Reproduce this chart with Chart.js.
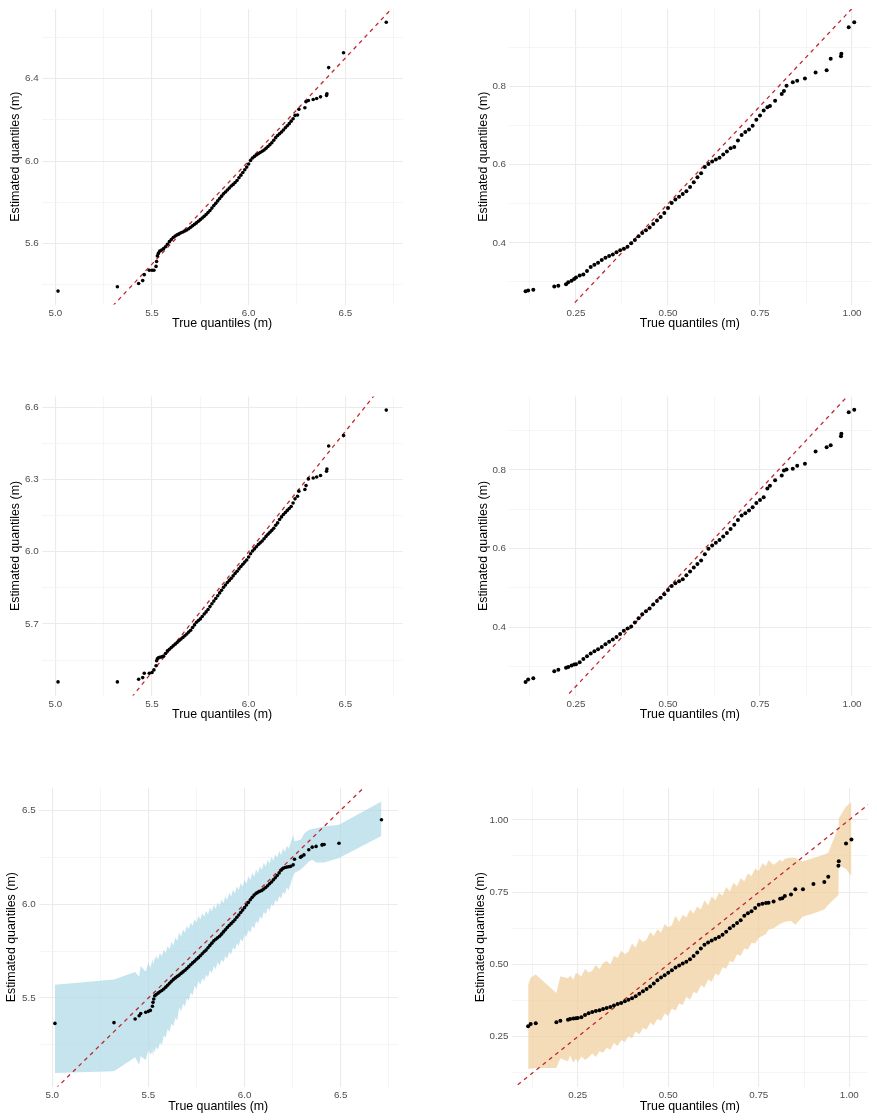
<!DOCTYPE html>
<html>
<head>
<meta charset="utf-8">
<script src="https://cdn.jsdelivr.net/npm/chart.js@4.4.1/dist/chart.umd.min.js"></script>
<style>
  body { margin: 0; background: #fff; width: 877px; height: 1120px; position: relative; overflow: hidden; }
</style>
</head>
<body>
<script>
// ---- Datos: cuantiles verdaderos (columna izquierda) ----
const xLeft = [
  5.014, 5.321, 5.431, 5.452, 5.460, 5.486, 5.500, 5.510, 5.521, 5.524, 5.528, 5.533,
  5.54, 5.55, 5.56, 5.57, 5.58, 5.59, 5.60, 5.61, 5.62, 5.63,
  5.64, 5.65, 5.66, 5.67, 5.68, 5.69, 5.70, 5.71, 5.72, 5.73,
  5.74, 5.75, 5.76, 5.77, 5.78, 5.79, 5.80, 5.81, 5.82, 5.83,
  5.84, 5.85, 5.86, 5.87, 5.88, 5.89, 5.90, 5.91, 5.92, 5.93,
  5.94, 5.95, 5.96, 5.97, 5.98, 5.99, 6.00, 6.01, 6.02, 6.03,
  6.04, 6.05, 6.06, 6.07, 6.08, 6.09, 6.10, 6.11, 6.12, 6.13,
  6.14, 6.15, 6.16, 6.17, 6.18, 6.19, 6.20, 6.21, 6.22, 6.23,
  6.24,
  6.253, 6.260, 6.291, 6.297, 6.309, 6.334, 6.352, 6.372, 6.403, 6.405, 6.414, 6.491, 6.712
];
// cuantiles estimados, panel superior izquierdo
const yTopLeft = [
  5.369, 5.390, 5.406, 5.420, 5.449, 5.470, 5.470, 5.470, 5.489, 5.513, 5.540, 5.552,
  5.563, 5.568, 5.575, 5.584, 5.596, 5.609, 5.619, 5.629, 5.636, 5.642,
  5.647, 5.652, 5.656, 5.661, 5.666, 5.672, 5.679, 5.686, 5.693, 5.700,
  5.708, 5.716, 5.724, 5.732, 5.741, 5.750, 5.760, 5.772, 5.784, 5.795,
  5.807, 5.818, 5.830, 5.841, 5.850, 5.860, 5.869, 5.879, 5.887, 5.896,
  5.906, 5.919, 5.932, 5.945, 5.958, 5.971, 5.986, 6.003, 6.015, 6.023,
  6.030, 6.036, 6.042, 6.048, 6.054, 6.062, 6.071, 6.080, 6.089, 6.101,
  6.114, 6.124, 6.133, 6.141, 6.151, 6.162, 6.172, 6.182, 6.194, 6.206,
  6.222,
  6.224, 6.252, 6.259, 6.288, 6.294, 6.299, 6.304, 6.312, 6.319, 6.327, 6.454, 6.526, 6.674
];
// panel central izquierdo
const yMidLeft = [
  5.459, 5.459, 5.470, 5.477, 5.495, 5.495, 5.498, 5.509, 5.526, 5.547, 5.555, 5.559,
  5.561, 5.563, 5.566, 5.577, 5.588, 5.595, 5.602, 5.609, 5.616, 5.623,
  5.630, 5.637, 5.644, 5.651, 5.658, 5.666, 5.674, 5.685, 5.696, 5.707,
  5.714, 5.721, 5.731, 5.741, 5.750, 5.760, 5.772, 5.784, 5.795, 5.806,
  5.817, 5.829, 5.840, 5.852, 5.862, 5.872, 5.881, 5.890, 5.900, 5.910,
  5.919, 5.929, 5.939, 5.948, 5.957, 5.966, 5.978, 5.992, 6.003, 6.012,
  6.021, 6.030, 6.037, 6.045, 6.054, 6.064, 6.073, 6.081, 6.089, 6.098,
  6.110, 6.120, 6.134, 6.145, 6.155, 6.163, 6.172, 6.180, 6.188, 6.203,
  6.220,
  6.231, 6.252, 6.259, 6.275, 6.303, 6.307, 6.311, 6.317, 6.335, 6.344, 6.440, 6.483, 6.589
];
// panel inferior izquierdo
const yBotLeft = [
  5.365, 5.369, 5.388, 5.406, 5.417, 5.424, 5.429, 5.434, 5.456, 5.477, 5.495, 5.512,
  5.518, 5.526, 5.533, 5.540, 5.548, 5.558, 5.568, 5.579, 5.589, 5.599,
  5.607, 5.615, 5.622, 5.631, 5.639, 5.648, 5.657, 5.667, 5.677, 5.687,
  5.696, 5.706, 5.715, 5.725, 5.736, 5.746, 5.755, 5.768, 5.780, 5.792,
  5.804, 5.813, 5.821, 5.829, 5.840, 5.852, 5.863, 5.875, 5.886, 5.896,
  5.906, 5.917, 5.930, 5.942, 5.955, 5.968, 5.981, 5.995, 6.009, 6.023,
  6.036, 6.048, 6.057, 6.063, 6.068, 6.073, 6.080, 6.088, 6.098, 6.108,
  6.118, 6.129, 6.140, 6.152, 6.166, 6.180, 6.190, 6.195, 6.197, 6.199,
  6.201,
  6.209, 6.239, 6.250, 6.254, 6.262, 6.289, 6.303, 6.307, 6.314, 6.317, 6.317, 6.324, 6.449
];
// banda (límite superior e inferior), panel inferior izquierdo
const bandHighLeft = [
  5.571, 5.598, 5.638, 5.615, 5.670, 5.640, 5.690, 5.660, 5.705, 5.685, 5.715, 5.700,
  5.725, 5.705, 5.740, 5.722, 5.758, 5.740, 5.778, 5.760, 5.800, 5.780,
  5.822, 5.805, 5.848, 5.828, 5.865, 5.848, 5.885, 5.866, 5.902, 5.885,
  5.920, 5.902, 5.938, 5.918, 5.952, 5.932, 5.965, 5.945, 5.980, 5.962,
  5.995, 5.975, 6.010, 5.990, 6.025, 6.005, 6.042, 6.022, 6.060, 6.040,
  6.078, 6.058, 6.095, 6.075, 6.112, 6.092, 6.130, 6.110, 6.148, 6.128,
  6.166, 6.146, 6.184, 6.164, 6.202, 6.182, 6.220, 6.200, 6.236, 6.216,
  6.250, 6.232, 6.265, 6.248, 6.282, 6.262, 6.296, 6.278, 6.310, 6.295,
  6.325,
  6.369, 6.335, 6.342, 6.350, 6.375, 6.395, 6.400, 6.404, 6.410, 6.412, 6.413, 6.422, 6.546
];
const bandLowLeft = [
  5.101, 5.110, 5.185, 5.145, 5.190, 5.170, 5.225, 5.200, 5.215, 5.190, 5.230, 5.210,
  5.240, 5.225, 5.262, 5.250, 5.300, 5.290, 5.335, 5.320, 5.365, 5.350,
  5.395, 5.380, 5.450, 5.430, 5.470, 5.455, 5.500, 5.485, 5.530, 5.515,
  5.565, 5.548, 5.590, 5.570, 5.605, 5.590, 5.625, 5.610, 5.648, 5.632,
  5.670, 5.655, 5.690, 5.672, 5.705, 5.690, 5.722, 5.710, 5.745, 5.732,
  5.770, 5.755, 5.790, 5.778, 5.815, 5.800, 5.840, 5.825, 5.862, 5.848,
  5.885, 5.870, 5.910, 5.895, 5.935, 5.920, 5.958, 5.945, 5.980, 5.965,
  6.000, 5.988, 6.022, 6.010, 6.042, 6.030, 6.065, 6.052, 6.088, 6.075,
  6.110,
  6.150, 6.165, 6.183, 6.190, 6.200, 6.225, 6.236, 6.222, 6.222, 6.222, 6.222, 6.245, 6.363
];

// ---- Datos: cuantiles verdaderos (columna derecha) ----
const xRight = [
  0.113, 0.120, 0.134, 0.191, 0.202, 0.223, 0.229, 0.238, 0.245,
  0.25, 0.26, 0.27, 0.28, 0.29, 0.30, 0.31, 0.32, 0.33, 0.34,
  0.35, 0.36, 0.37, 0.38, 0.39, 0.40, 0.41, 0.42, 0.43, 0.44,
  0.45, 0.46, 0.47, 0.48, 0.49, 0.50, 0.51, 0.52, 0.53, 0.54,
  0.55, 0.56, 0.57, 0.58, 0.59, 0.60, 0.61, 0.62, 0.63, 0.64,
  0.65, 0.66, 0.67, 0.68, 0.69, 0.70, 0.71, 0.72, 0.73, 0.74,
  0.75, 0.76, 0.77,
  0.777, 0.791, 0.809, 0.815, 0.822, 0.839, 0.851, 0.872, 0.901, 0.931, 0.942, 0.970, 0.971, 0.991, 1.006
];
const yTopRight = [
  0.276, 0.278, 0.280, 0.288, 0.290, 0.294, 0.299, 0.303, 0.307,
  0.311, 0.316, 0.319, 0.328, 0.338, 0.344, 0.349, 0.356, 0.362, 0.366,
  0.370, 0.376, 0.381, 0.385, 0.390, 0.399, 0.407, 0.417, 0.425, 0.432,
  0.439, 0.448, 0.457, 0.466, 0.476, 0.489, 0.502, 0.511, 0.518, 0.525,
  0.532, 0.543, 0.555, 0.568, 0.578, 0.594, 0.602, 0.608, 0.613, 0.618,
  0.626, 0.634, 0.642, 0.645, 0.662, 0.676, 0.684, 0.690, 0.700, 0.715,
  0.726, 0.739, 0.747,
  0.750, 0.764, 0.781, 0.789, 0.802, 0.811, 0.815, 0.821, 0.836, 0.842, 0.871, 0.878, 0.884, 0.952, 0.965
];
const yMidRight = [
  0.261, 0.267, 0.270, 0.288, 0.292, 0.297, 0.299, 0.303, 0.305,
  0.306, 0.311, 0.319, 0.326, 0.333, 0.339, 0.344, 0.350, 0.357, 0.363,
  0.369, 0.375, 0.383, 0.391, 0.397, 0.402, 0.412, 0.423, 0.433, 0.441,
  0.448, 0.458, 0.467, 0.475, 0.484, 0.495, 0.505, 0.512, 0.517, 0.522,
  0.532, 0.542, 0.552, 0.561, 0.570, 0.586, 0.600, 0.608, 0.615, 0.622,
  0.631, 0.640, 0.650, 0.661, 0.673, 0.684, 0.690, 0.697, 0.705, 0.716,
  0.724, 0.731, 0.753,
  0.760, 0.774, 0.786, 0.799, 0.801, 0.803, 0.811, 0.816, 0.847, 0.858, 0.863, 0.886, 0.892, 0.947, 0.953
];
const yBotRight = [
  0.286, 0.294, 0.297, 0.300, 0.305, 0.309, 0.311, 0.313, 0.314,
  0.315, 0.317, 0.325, 0.331, 0.336, 0.339, 0.342, 0.346, 0.349, 0.353,
  0.358, 0.363, 0.367, 0.373, 0.378, 0.383, 0.390, 0.399, 0.407, 0.415,
  0.424, 0.434, 0.445, 0.455, 0.463, 0.471, 0.480, 0.489, 0.496, 0.503,
  0.509, 0.518, 0.529, 0.541, 0.555, 0.568, 0.576, 0.583, 0.589, 0.595,
  0.603, 0.613, 0.625, 0.634, 0.643, 0.653, 0.668, 0.677, 0.684, 0.695,
  0.706, 0.710, 0.712,
  0.713, 0.718, 0.727, 0.729, 0.737, 0.742, 0.760, 0.760, 0.778, 0.785, 0.803, 0.841, 0.857, 0.918, 0.932
];
const bandHighRight = [
  0.430, 0.455, 0.465, 0.401, 0.459, 0.452, 0.462, 0.448, 0.470,
  0.468, 0.458, 0.485, 0.472, 0.478, 0.498, 0.484, 0.505, 0.512, 0.500,
  0.530, 0.522, 0.548, 0.535, 0.545, 0.572, 0.558, 0.590, 0.578, 0.585,
  0.612, 0.598, 0.622, 0.610, 0.640, 0.628, 0.636, 0.668, 0.648, 0.672,
  0.662, 0.690, 0.676, 0.700, 0.690, 0.722, 0.705, 0.735, 0.722, 0.748,
  0.738, 0.768, 0.752, 0.782, 0.770, 0.798, 0.788, 0.815, 0.805, 0.832,
  0.822, 0.850, 0.840,
  0.860, 0.845, 0.862, 0.855, 0.865, 0.870, 0.868, 0.856, 0.868, 0.880, 0.886, 0.975, 1.005, 1.046, 1.062
];
const bandLowRight = [
  0.138, 0.140, 0.142, 0.142, 0.175, 0.165, 0.185, 0.160, 0.175,
  0.162, 0.182, 0.170, 0.178, 0.192, 0.180, 0.200, 0.195, 0.212, 0.205,
  0.228, 0.218, 0.238, 0.232, 0.252, 0.245, 0.268, 0.258, 0.280, 0.275,
  0.298, 0.290, 0.312, 0.305, 0.330, 0.322, 0.348, 0.340, 0.365, 0.360,
  0.388, 0.378, 0.405, 0.400, 0.428, 0.420, 0.448, 0.440, 0.468, 0.462,
  0.490, 0.485, 0.512, 0.508, 0.535, 0.530, 0.555, 0.552, 0.575, 0.572,
  0.592, 0.598, 0.605,
  0.620, 0.625, 0.640, 0.643, 0.648, 0.650, 0.637, 0.666, 0.676, 0.690, 0.706, 0.740, 0.845, 0.830, 0.805
];

// ---- Marcas de los ejes (mayores y menores) ----
const ticksXLeft = [5.0, 5.5, 6.0, 6.5];
const minorXLeft = [5.25, 5.75, 6.25, 6.75];
const ticksXRight = [0.25, 0.5, 0.75, 1.0];
const minorXRight = [0.125, 0.375, 0.625, 0.875];
const ticksY1 = [5.6, 6.0, 6.4];
const minorY1 = [5.4, 5.8, 6.2, 6.6];
const ticksY2 = [0.4, 0.6, 0.8];
const minorY2 = [0.3, 0.5, 0.7, 0.9];
const ticksY3 = [5.7, 6.0, 6.3, 6.6];
const minorY3 = [5.55, 5.85, 6.15, 6.45];
const ticksY4 = [0.4, 0.6, 0.8];
const minorY4 = [0.3, 0.5, 0.7, 0.9];
const ticksY5 = [5.5, 6.0, 6.5];
const minorY5 = [5.25, 5.75, 6.25];
const ticksY6 = [0.25, 0.5, 0.75, 1.0];
const minorY6 = [0.125, 0.375, 0.625, 0.875];

const FONT = "'Liberation Sans', Arial, Helvetica, sans-serif";
const TITLE_SIZE = 12.4;
const TICK_SIZE = 9.8;
const LH = TITLE_SIZE * 1.2;

// Configuración de cada panel: caja del canvas, área del gráfico y rangos
const paneles = [
  { caja: [0, 0, 438, 350], area: [41.6, 5.5, 402.7, 304.5], xr: [4.929, 6.797], yr: [5.304, 6.739],
    xs: xLeft, ys: yTopLeft, xt: [ticksXLeft, minorXLeft, 1], yt: [ticksY1, minorY1, 1], yTitleCx: 16, xTitleCy: 324, r: 1.8 },
  { caja: [438, 0, 439, 350], area: [509, 5.5, 870.8, 304.5], xr: [0.068, 1.051], yr: [0.242, 0.999],
    xs: xRight, ys: yTopRight, xt: [ticksXRight, minorXRight, 2], yt: [ticksY2, minorY2, 1], yTitleCx: 483.3, xTitleCy: 324, r: 2 },
  { caja: [0, 350, 438, 390], area: [41.6, 396.5, 402.7, 695.5], xr: [4.929, 6.797], yr: [5.4025, 6.6455],
    xs: xLeft, ys: yMidLeft, xt: [ticksXLeft, minorXLeft, 1], yt: [ticksY3, minorY3, 1], yTitleCx: 16, xTitleCy: 714.3, r: 1.8 },
  { caja: [438, 350, 439, 390], area: [509, 396.5, 870.8, 695.5], xr: [0.068, 1.051], yr: [0.2264, 0.987],
    xs: xRight, ys: yMidRight, xt: [ticksXRight, minorXRight, 2], yt: [ticksY4, minorY4, 1], yTitleCx: 483.3, xTitleCy: 714.3, r: 2 },
  { caja: [0, 740, 438, 380], area: [38.6, 788, 397.8, 1086.5], xr: [4.929, 6.797], yr: [5.029, 6.618],
    xs: xLeft, ys: yBotLeft, xt: [ticksXLeft, minorXLeft, 1], yt: [ticksY5, minorY5, 1], yTitleCx: 11.7, xTitleCy: 1106.7, r: 1.8,
    banda: [bandLowLeft, bandHighLeft], color: 'rgba(173,216,230,0.7)' },
  { caja: [438, 740, 439, 380], area: [511.5, 788, 868.1, 1086.5], xr: [0.067, 1.052], yr: [0.078, 1.110],
    xs: xRight, ys: yBotRight, xt: [ticksXRight, minorXRight, 2], yt: [ticksY6, minorY6, 2], yTitleCx: 480.7, xTitleCy: 1106.7, r: 2,
    banda: [bandLowRight, bandHighRight], color: 'rgba(239,205,154,0.7)' }
];

const pts = (xs, ys) => xs.map((x, i) => ({ x: x, y: ys[i] }));
const esMayor = (v, lista) => lista.some((m) => Math.abs(m - v) < 1e-6);

// Escala con líneas mayores y menores (estilo ggplot minimal)
function escala(rango, marcas, extra) {
  const [mayores, menores, dec] = marcas;
  return Object.assign({
    type: 'linear',
    min: rango[0],
    max: rango[1],
    afterBuildTicks: (s) => {
      s.ticks = mayores.concat(menores).sort((a, b) => a - b).map((v) => ({ value: v }));
    },
    border: { display: false },
    grid: {
      drawTicks: false,
      color: (ctx) => (ctx.tick && esMayor(ctx.tick.value, mayores) ? '#EBEBEB' : '#F2F2F2'),
      lineWidth: (ctx) => (ctx.tick && esMayor(ctx.tick.value, mayores) ? 1.1 : 0.8)
    },
    ticks: {
      autoSkip: false,
      maxRotation: 0,
      padding: 3,
      color: '#4D4D4D',
      font: { family: FONT, size: TICK_SIZE },
      callback: (v) => (esMayor(v, mayores) ? Number(v).toFixed(dec) : '')
    }
  }, extra);
}

function crearPanel(p) {
  const [cx, cy, cw, ch] = p.caja;
  const [L, T, R, B] = p.area;
  const cv = document.createElement('canvas');
  cv.width = cw;
  cv.height = ch;
  cv.style.cssText = `position:absolute;left:${cx}px;top:${cy}px;width:${cw}px;height:${ch}px`;
  document.body.appendChild(cv);

  const datasets = [
    { data: pts(p.xs, p.ys), showLine: false, pointRadius: p.r, pointBackgroundColor: '#000',
      pointBorderWidth: 0, pointBorderColor: '#000', order: 0 },
    { data: [{ x: p.xr[0], y: p.xr[0] }, { x: p.xr[1], y: p.xr[1] }], showLine: true,
      borderColor: '#C1272D', borderWidth: 1.3, borderDash: [4, 4], pointRadius: 0, fill: false, order: 1 }
  ];
  if (p.banda) {
    datasets.push({ data: pts(p.xs, p.banda[1]), showLine: true, fill: '+1', backgroundColor: p.color,
      borderColor: 'rgba(0,0,0,0)', borderWidth: 0, pointRadius: 0, order: 2 });
    datasets.push({ data: pts(p.xs, p.banda[0]), showLine: true, fill: false,
      borderColor: 'rgba(0,0,0,0)', borderWidth: 0, pointRadius: 0, order: 3 });
  }

  new Chart(cv.getContext('2d'), {
    type: 'line',
    data: { datasets: datasets },
    options: {
      responsive: false,
      animation: false,
      devicePixelRatio: 1,
      layout: { padding: { left: 0, bottom: 0, top: T - cy, right: cx + cw - R } },
      plugins: { legend: { display: false }, tooltip: { enabled: false } },
      elements: { line: { tension: 0 } },
      scales: {
        x: escala(p.xr, p.xt, {
          position: 'bottom',
          afterFit: (s) => { s.height = cy + ch - B; },
          title: { display: true, text: 'True quantiles (m)', color: '#000',
            font: { family: FONT, size: TITLE_SIZE, lineHeight: 1.2 },
            padding: { top: 0, bottom: cy + ch - p.xTitleCy - LH / 2 } }
        }),
        y: escala(p.yr, p.yt, {
          position: 'left',
          afterFit: (s) => { s.width = L - cx; },
          title: { display: true, text: 'Estimated quantiles (m)', color: '#000',
            font: { family: FONT, size: TITLE_SIZE, lineHeight: 1.2 },
            padding: { top: p.yTitleCx - cx - LH / 2, bottom: 0 } }
        })
      }
    }
  });
}

paneles.forEach(crearPanel);
</script>
</body>
</html>
